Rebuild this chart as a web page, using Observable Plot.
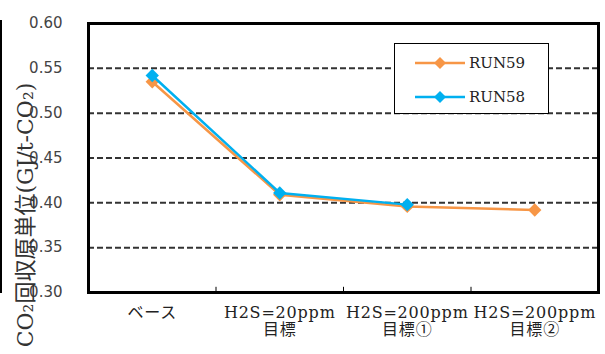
<!DOCTYPE html>
<html>
<head>
<meta charset="utf-8">
<script src="https://cdn.jsdelivr.net/npm/d3@7"></script>
<script src="https://cdn.jsdelivr.net/npm/@observablehq/plot@0.6"></script>
<style>
  html, body { margin: 0; padding: 0; background: #fff; }
  #wrap { position: relative; width: 605px; height: 354px; overflow: hidden; }
  #edge { position: absolute; left: 0; top: 20px; width: 2px; height: 273px; background: #000; }
  #legend { position: absolute; left: 394px; top: 43px; width: 153px; height: 69px;
    border: 1px solid #000; background: #fff; font-family: "DejaVu Serif", serif; font-size: 15px; color: #222; }
  .item { position: absolute; left: 0; height: 20px; display: flex; align-items: center; }
  .item svg { margin-left: 20px; }
  .item span { margin-left: 4px; }
  g[aria-label="x-axis tick label"] text { letter-spacing: 0.8px; }
</style>
</head>
<body>
<div id="wrap">
  <div id="edge"></div>
  <div id="chart"></div>
  <div id="legend"></div>
</div>
<script>
const categories = ["ベース", "H2S=20ppm\n目標", "H2S=200ppm\n目標①", "H2S=200ppm\n目標②"];
const run59 = [0.535, 0.409, 0.396, 0.392];
const run58 = [0.542, 0.411, 0.398, null];
const yTicks = [0.30, 0.35, 0.40, 0.45, 0.50, 0.55, 0.60];
const gridTicks = [0.35, 0.40, 0.45, 0.50, 0.55];
const boundaries = [0.5, 1.5, 2.5];
const seriesNames = ["RUN59", "RUN58"];
const seriesColors = ["#F79646", "#00B0F0"];
const yLabel = "CO₂回収原単位(GJ/t-CO₂)";

const rows59 = run59.map((v, i) => ({i, v})).filter(d => d.v != null);
const rows58 = run58.map((v, i) => ({i, v})).filter(d => d.v != null);

const chart = Plot.plot({
  width: 605,
  height: 354,
  marginLeft: 88,
  marginRight: 7,
  marginTop: 23,
  marginBottom: 62,
  style: { background: "#fff", color: "#222" },
  x: { type: "linear", domain: [-0.5, 3.5] },
  y: { domain: [0.30, 0.60] },
  marks: [
    Plot.gridY(gridTicks, { stroke: "#333", strokeOpacity: 1, strokeWidth: 2, strokeDasharray: "6,3" }),
    Plot.ruleX(boundaries, { y1: 0.30, y2: 0.3058, stroke: "#000", strokeWidth: 1 }),
    Plot.axisY(yTicks, { tickSize: 0, tickPadding: 26, tickFormat: d3.format(".2f"), label: null,
      fontSize: 15, fontFamily: "DejaVu Sans", fill: "#444" }),
    Plot.axisX([0, 1, 2, 3], { tickSize: 0, tickPadding: 13, label: null, tickFormat: i => categories[i],
      fontSize: 16, fontFamily: "DejaVu Serif, Noto Sans CJK JP", lineHeight: 1.08, fill: "#222" }),
    Plot.line(rows59, { x: "i", y: "v", stroke: seriesColors[0], strokeWidth: 2.5 }),
    Plot.dot(rows59, { x: "i", y: "v", symbol: "diamond2", r: 6, fill: seriesColors[0], stroke: "none" }),
    Plot.line(rows58, { x: "i", y: "v", stroke: seriesColors[1], strokeWidth: 2.5 }),
    Plot.dot(rows58, { x: "i", y: "v", symbol: "diamond2", r: 6, fill: seriesColors[1], stroke: "none" }),
    Plot.frame({ stroke: "#000", strokeWidth: 3 }),
    Plot.text([yLabel], { frameAnchor: "left", textAnchor: "middle", rotate: -90, dx: -63, dy: 57, fontSize: 22,
      fontFamily: "DejaVu Serif, Noto Sans CJK JP", fill: "#333" })
  ]
});
document.getElementById("chart").appendChild(chart);

const legend = document.getElementById("legend");
const tops = [9, 43];
seriesNames.forEach((name, k) => {
  const item = document.createElement("div");
  item.className = "item";
  item.style.top = tops[k] + "px";
  item.innerHTML = `<svg width="50" height="14"><line x1="0" x2="50" y1="7" y2="7" stroke="${seriesColors[k]}" stroke-width="2.5"/><path d="M25,1L31,7L25,13L19,7Z" fill="${seriesColors[k]}"/></svg><span>${name}</span>`;
  legend.appendChild(item);
});
</script>
</body>
</html>
